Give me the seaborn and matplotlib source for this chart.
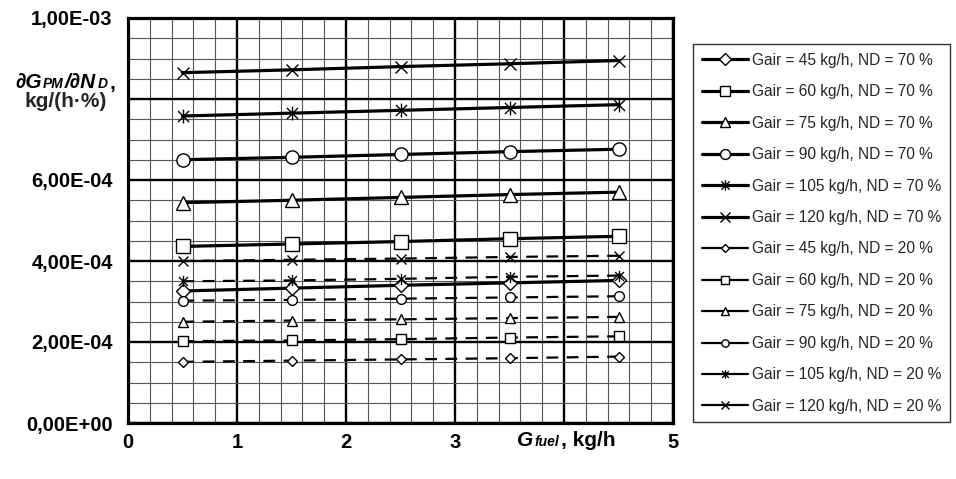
import pandas as pd
import matplotlib
matplotlib.use("Agg")
import matplotlib.pyplot as plt
from matplotlib.path import Path
from matplotlib.ticker import MultipleLocator, FuncFormatter
from matplotlib.offsetbox import TextArea, HPacker, AnchoredOffsetbox
import seaborn as sns

# fuel flow, kg/h
g_fuel = [0.5, 1.5, 2.5, 3.5, 4.5]
g_air = [45, 60, 75, 90, 105, 120]

# dG_PM/dN_D in units of 1e-4 kg/(h*%), ND = 70 %
nd70_45 = [3.26, 3.33, 3.40, 3.46, 3.52]
nd70_60 = [4.36, 4.42, 4.48, 4.55, 4.61]
nd70_75 = [5.44, 5.50, 5.57, 5.64, 5.70]
nd70_90 = [6.50, 6.56, 6.63, 6.70, 6.76]
nd70_105 = [7.58, 7.65, 7.72, 7.79, 7.86]
nd70_120 = [8.65, 8.72, 8.80, 8.87, 8.95]

# ND = 20 %
nd20_45 = [1.51, 1.54, 1.57, 1.60, 1.64]
nd20_60 = [2.02, 2.04, 2.07, 2.11, 2.14]
nd20_75 = [2.50, 2.53, 2.56, 2.59, 2.62]
nd20_90 = [3.02, 3.04, 3.07, 3.10, 3.13]
nd20_105 = [3.50, 3.52, 3.56, 3.61, 3.64]
nd20_120 = [4.00, 4.03, 4.06, 4.10, 4.13]

nd70 = [nd70_45, nd70_60, nd70_75, nd70_90, nd70_105, nd70_120]
nd20 = [nd20_45, nd20_60, nd20_75, nd20_90, nd20_105, nd20_120]

rows = []
for nd, series in ((70, nd70), (20, nd20)):
    for ga, vals in zip(g_air, series):
        for x, v in zip(g_fuel, vals):
            rows.append({"ND": nd, "Gair": ga, "Gfuel": x, "dG": v * 1e-4})
df = pd.DataFrame(rows)

sns.set_theme(style="white")
plt.rcParams["font.family"] = ["Liberation Sans", "DejaVu Sans"]

# excel-like asterisk: X with a vertical bar
asterisk = Path([(-1, -1), (1, 1), (-1, 1), (1, -1), (0, -1.25), (0, 1.25)],
                [Path.MOVETO, Path.LINETO] * 3)
markers = ["D", "s", "^", "o", asterisk, "x"]
size_big = [7.5, 9.5, 10, 9.5, 10, 9]
size_small = [5.5, 7, 7.5, 7, 8, 7.5]

fig = plt.figure(figsize=(9.56, 4.79), dpi=100)
ax = fig.add_axes([128 / 956, 1 - 423 / 479, 545 / 956, 405 / 479])

for nd, sizes, lw, ls in ((70, size_big, 2.3, "-"), (20, size_small, 1.6, (0, (5.3, 3.8)))):
    for i, ga in enumerate(g_air):
        sub = df[(df["ND"] == nd) & (df["Gair"] == ga)]
        sns.lineplot(data=sub, x="Gfuel", y="dG", ax=ax, color="black", lw=lw, ls=ls,
                     marker=markers[i], markersize=sizes[i], mfc="white", mec="black",
                     mew=1.0, errorbar=None, label=f"Gair = {ga} kg/h, ND = {nd} %")

ax.set_xlim(0, 5)
ax.set_ylim(0, 1e-3)
ax.xaxis.set_major_locator(MultipleLocator(1))
ax.xaxis.set_minor_locator(MultipleLocator(0.2))
ax.yaxis.set_major_locator(MultipleLocator(2e-4))
ax.yaxis.set_minor_locator(MultipleLocator(5e-5))
ax.set_axisbelow(True)
ax.grid(which="major", color="black", lw=1.7)
ax.grid(which="minor", color="#555555", lw=0.8)
for s in ax.spines.values():
    s.set_color("black")
    s.set_linewidth(2.3)

def ylab(v, pos):
    if abs(v - 8e-4) < 1e-9:
        return ""
    return f"{v:.2E}".replace(".", ",")

def xlab(v, pos):
    if abs(v - 4) < 1e-9:
        return ""
    return f"{v:.0f}"

ax.yaxis.set_major_formatter(FuncFormatter(ylab))
ax.xaxis.set_major_formatter(FuncFormatter(xlab))
ax.tick_params(which="major", direction="out", length=4, width=1.8, color="black",
               labelsize=14.5, labelcolor="black")
ax.tick_params(axis="y", pad=7)
ax.tick_params(axis="x", pad=3)
ax.tick_params(which="minor", length=0)
for t in ax.get_xticklabels() + ax.get_yticklabels():
    t.set_fontweight("bold")
ax.set_xlabel("")
ax.set_ylabel("")

def label_box(parts, xy):
    kids = [TextArea(t, textprops=dict(fontsize=fs, fontweight="bold", fontstyle=st, color="black"))
            for t, fs, st in parts]
    box = HPacker(children=kids, align="baseline", pad=0, sep=1)
    anc = AnchoredOffsetbox(loc="center", child=box, pad=0, borderpad=0, frameon=False,
                            bbox_to_anchor=xy, bbox_transform=fig.transFigure)
    fig.add_artist(anc)

# axis titles, Excel style with small italic indices
label_box([("∂G", 15, "italic"), ("PM", 10, "italic"), ("/∂N", 15, "italic"),
           ("D", 10, "italic"), (",", 15, "normal")], (65 / 956, 1 - 83 / 479))
fig.text(66 / 956, 1 - 107 / 479, "kg/(h·%)", ha="center", va="baseline",
         fontsize=15, fontweight="bold")
label_box([("G", 15, "italic"), ("fuel", 10, "italic"), (", kg/h", 15, "normal")],
          (566 / 956, 1 - 440 / 479))

leg = ax.legend(loc="upper left", bbox_to_anchor=(693 / 956, 1 - 44 / 479),
                bbox_transform=fig.transFigure, frameon=True, fancybox=False,
                fontsize=11.2, labelspacing=1.06, handlelength=3.0, handletextpad=0.25,
                borderpad=0.55, borderaxespad=0, markerscale=0.75)
leg.get_frame().set_edgecolor("black")
leg.get_frame().set_linewidth(1.0)
for h in leg.get_lines():
    h.set_linestyle("-")

fig.savefig("out.png", dpi=100)
